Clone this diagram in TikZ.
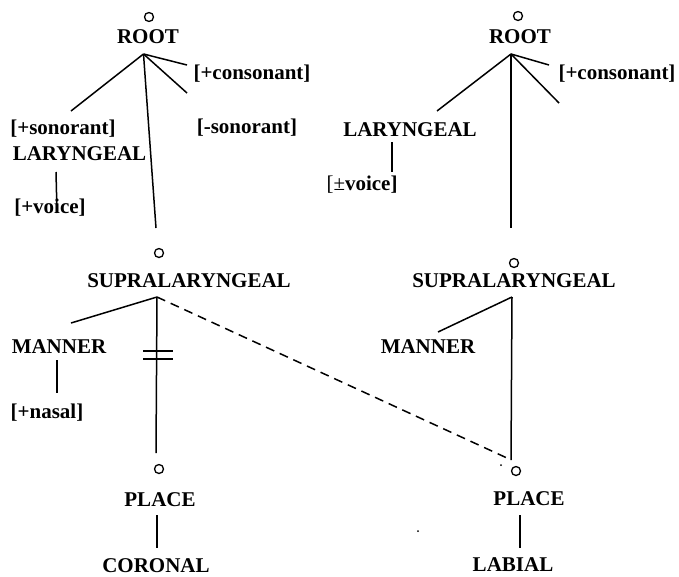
\documentclass[tikz,border=0pt]{standalone}
\usepackage{fontspec}
\setmainfont{Liberation Serif}
\begin{document}
\begin{tikzpicture}[x=1pt,y=-1pt,
  lbl/.style={font=\fontsize{21}{24}\selectfont\bfseries, inner sep=0pt, anchor=base},
  nodecirc/.style={circle, draw, line width=1.3pt, minimum size=9pt, inner sep=0pt},
  edge/.style={line width=1.5pt},
  link/.style={line width=1.5pt, dash pattern=on 9pt off 6pt},
  speck/.style={circle, fill, inner sep=0pt, minimum size=2pt}]
\useasboundingbox (0,0) rectangle (679,576);

% ---------- left tree ----------
\node[nodecirc] (lRootC) at (149,17) {};
\node[lbl] (lRoot) at (148,43) {ROOT};
\coordinate (lRootA) at (143.5,54);
\coordinate (lConsE) at (187,65);
\coordinate (lSonE) at (187,93);
\coordinate (lLarE) at (71,111);
\coordinate (lSupE) at (156,228);
\node[lbl] (lCons) at (252,79.5) {[+consonant]};
\node[lbl] (lMinSon) at (247,133.5) {[-sonorant]};
\node[lbl] (lPlusSon) at (63,134.5) {[+sonorant]};
\node[lbl] (lLar) at (79.5,160) {LARYNGEAL};
\coordinate (lLarT) at (56,172);
\coordinate (lVoiceT) at (57,213);
\node[lbl] (lVoice) at (50,213.5) {[+voice]};
\draw[edge] (lRootA) -- (lConsE);
\draw[edge] (lRootA) -- (lSonE);
\draw[edge] (lRootA) -- (lLarE);
\draw[edge] (lRootA) -- (lSupE);
\draw[edge] (lLarT) -- (lVoiceT);

\node[nodecirc] (lSupC) at (159,253) {};
\node[lbl] (lSup) at (189,287) {SUPRALARYNGEAL};
\coordinate (lSupA) at (157,297);
\coordinate (lManE) at (71,323);
\coordinate (lPlcE) at (156,453);
\node[lbl] (lMan) at (59,353) {MANNER};
\coordinate (lManT) at (57,360);
\coordinate (lNasT) at (57,393);
\node[lbl] (lNas) at (47,418) {[+nasal]};
\draw[edge] (lSupA) -- (lManE);
\draw[edge] (lSupA) -- (lPlcE);
\draw[edge] (lManT) -- (lNasT);
% delinking bars
\coordinate (barA1) at (143,351);
\coordinate (barA2) at (173,351);
\coordinate (barB1) at (143,359);
\coordinate (barB2) at (173,359);
\draw[edge] (barA1) -- (barA2);
\draw[edge] (barB1) -- (barB2);

\node[nodecirc] (lPlcC) at (159,469) {};
\node[lbl] (lPlc) at (160,506) {PLACE};
\coordinate (lPlcT) at (157,515);
\coordinate (lCorT) at (157,548);
\node[lbl] (lCor) at (156,572) {CORONAL};
\draw[edge] (lPlcT) -- (lCorT);

% ---------- right tree ----------
\node[nodecirc] (rRootC) at (518,16) {};
\node[lbl] (rRoot) at (520,43) {ROOT};
\coordinate (rRootA) at (511,54);
\coordinate (rConsE) at (549,65);
\coordinate (rSonE) at (559,103);
\coordinate (rLarE) at (437,111);
\coordinate (rSupE) at (511,228);
\node[lbl] (rCons) at (617,79.5) {[+consonant]};
\node[lbl] (rLar) at (410,136) {LARYNGEAL};
\coordinate (rLarT) at (392,142);
\coordinate (rVoiceT) at (392,172);
\node[lbl] (rVoice) at (362,190) {{\mdseries[\textpm}voice]};
\draw[edge] (rRootA) -- (rConsE);
\draw[edge] (rRootA) -- (rSonE);
\draw[edge] (rRootA) -- (rLarE);
\draw[edge] (rRootA) -- (rSupE);
\draw[edge] (rLarT) -- (rVoiceT);

\node[nodecirc] (rSupC) at (514,263) {};
\node[lbl] (rSup) at (514,287) {SUPRALARYNGEAL};
\coordinate (rSupA) at (512,297);
\coordinate (rManE) at (438,332);
\coordinate (rPlcE) at (511,460);
\node[lbl] (rMan) at (428,353) {MANNER};
\draw[edge] (rSupA) -- (rManE);
\draw[edge] (rSupA) -- (rPlcE);

\node[nodecirc] (rPlcC) at (516,471) {};
\node[lbl] (rPlc) at (529,505) {PLACE};
\coordinate (rPlcT) at (520,515);
\coordinate (rLabT) at (520,548);
\node[lbl] (rLab) at (513,571) {LABIAL};
\draw[edge] (rPlcT) -- (rLabT);

% spreading link to the right place node
\coordinate (spreadE) at (507,458);
\draw[link] (lSupA) -- (spreadE);
\node[speck] (speckA) at (501,465) {};
\node[speck] (speckB) at (418,531) {};
\end{tikzpicture}
\end{document}
